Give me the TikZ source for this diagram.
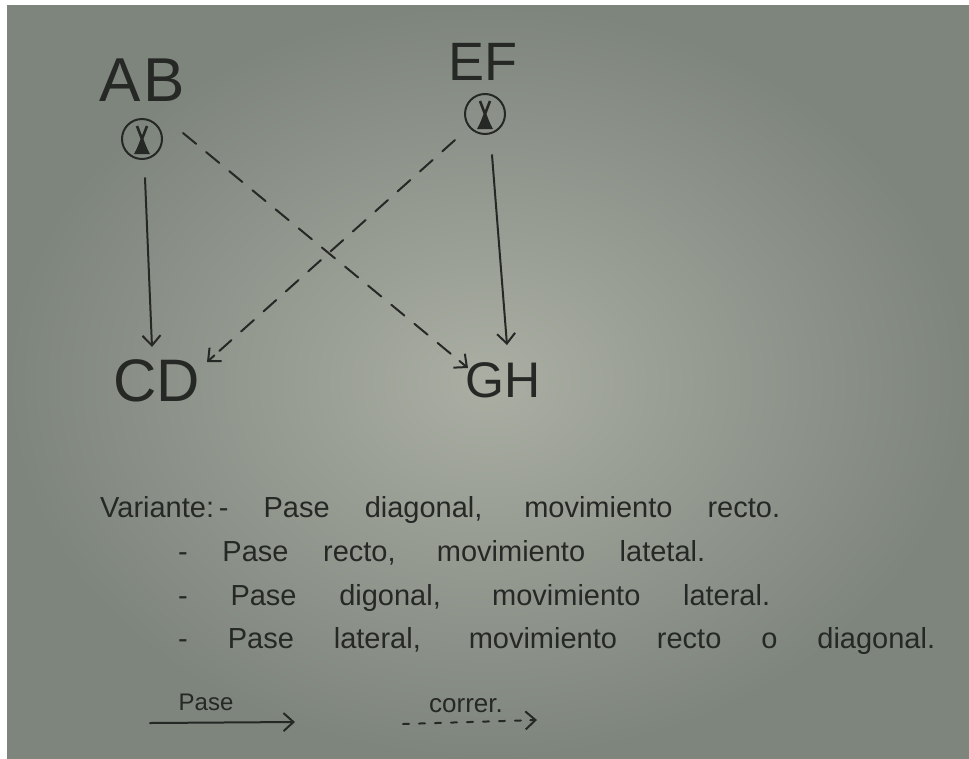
\documentclass[tikz,border=0pt]{standalone}
\usepackage{fontspec}
\setmainfont{Liberation Sans}
\usetikzlibrary{arrows.meta,calc}
\definecolor{ink}{RGB}{38,40,38}
\definecolor{paperin}{RGB}{170,174,163}
\definecolor{paperout}{RGB}{126,133,125}
\begin{document}
\begin{tikzpicture}[x=1pt,y=-1pt,
  inkline/.style={line width=2pt, draw=ink, line cap=round},
  tip/.style={-{Straight Barb[length=10pt,width=18pt,line width=2pt]}},
  pass/.style={inkline, tip},
  run/.style={inkline, dash pattern=on 17pt off 13pt},
  legrun/.style={inkline, dash pattern=on 6pt off 10pt},
  player/.style={circle, draw=ink, line width=2pt, minimum size=40pt, inner sep=0pt},
  lbl/.style={text=ink, inner sep=0pt},
  txt/.style={text=ink, inner sep=0pt, anchor=base west, font=\fontsize{29}{34}\selectfont}
]
\useasboundingbox (0,0) rectangle (969,758);
\fill[white] (0,0) rectangle (969,758);
\shade[inner color=paperin, outer color=paperout] (7,5) rectangle (969,758);

% labels
\node[lbl, font=\fontsize{62}{62}\selectfont] (AB) at (142,80) {A\hspace{3pt}B};
\node[lbl, font=\fontsize{54}{54}\selectfont] (EF) at (483,62) {EF};
\node[lbl, font=\fontsize{60}{60}\selectfont] (CD) at (157,381) {CD};
\node[lbl, font=\fontsize{50}{50}\selectfont] (GH) at (503,380) {GH};

% players
\node[player] (p1) at (142,139) {};
\node[player] (p2) at (485,114) {};
\foreach \p in {p1,p2}{
  \draw[ink, line width=2.6pt] ([shift={(-5,-13)}]\p.center) -- ([shift={(5,13)}]\p.center);
  \draw[ink, line width=2.6pt] ([shift={(5,-13)}]\p.center) -- ([shift={(-5,13)}]\p.center);
  \fill[ink] (\p.center) -- ([shift={(-8,15)}]\p.center) -- ([shift={(8,15)}]\p.center) -- cycle;
}

% passes
\draw[pass] ([shift={(3,39)}]p1.center) -- ([shift={(-5,-34)}]CD.center);
\draw[pass] ([shift={(7,41)}]p2.center) -- ([shift={(4,-35)}]GH.center);
% runs (dashed body, solid tip)
\coordinate (r1s) at ([shift={(41,-6)}]p1.center);
\coordinate (r1e) at ([shift={(-35,-12)}]GH.center);
\coordinate (r2s) at ([shift={(-30,26)}]p2.center);
\coordinate (r2e) at ([shift={(50,-19)}]CD.center);
\draw[run] (r1s) -- ($(r1s)!0.95!(r1e)$);
\draw[pass] ($(r1s)!0.97!(r1e)$) -- (r1e);
\draw[run] (r2s) -- ($(r2s)!0.95!(r2e)$);
\draw[pass] ($(r2s)!0.97!(r2e)$) -- (r2e);

% variants
\node[txt] (v1) at (100,517) {\makebox[680pt][s]{\mbox{Variante:\,-} Pase diagonal, movimiento recto.}};
\node[txt] (v2) at (178,561) {\makebox[527pt][s]{- Pase recto, movimiento latetal.}};
\node[txt] (v3) at (178,605) {\makebox[592pt][s]{- Pase digonal, movimiento lateral.}};
\node[txt] (v4) at (178,648) {\makebox[757pt][s]{- Pase lateral, movimiento recto o diagonal.}};

% legend
\node[lbl, font=\fontsize{24}{24}\selectfont] (lp) at (206,702) {Pase};
\node[lbl, font=\fontsize{26}{26}\selectfont] (lc) at (466,706) {correr.};
\coordinate (l1s) at (150,723);
\coordinate (l1e) at (295,722);
\coordinate (l2s) at (403,724);
\coordinate (l2e) at (537,720);
\draw[pass] (l1s) -- (l1e);
\draw[legrun] (l2s) -- ($(l2s)!0.93!(l2e)$);
\draw[pass] ($(l2s)!0.95!(l2e)$) -- (l2e);
\end{tikzpicture}
\end{document}
